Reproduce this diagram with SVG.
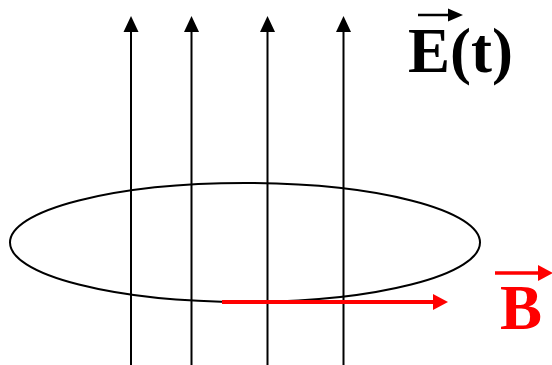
<svg xmlns="http://www.w3.org/2000/svg" width="552" height="365" viewBox="0 0 552 365">
<style>
.fl{stroke:#000;stroke-width:2;fill:none}
.hd{fill:#000}
.lbl{font-family:"Liberation Serif","Times New Roman",serif;font-weight:bold;font-size:63px}
</style>
<rect width="552" height="365" fill="#fff"/>
<g id="loop">
<ellipse cx="245" cy="242.5" rx="235" ry="59.5" fill="none" stroke="#000" stroke-width="2"/>
</g>
<g id="connectors">
<line class="fl" x1="131" y1="30" x2="131" y2="365"/>
<polygon class="hd" points="131,16 123.5,32 138.5,32"/>
<line class="fl" x1="191.5" y1="30" x2="191.5" y2="365"/>
<polygon class="hd" points="191.5,16 184,32 199,32"/>
<line class="fl" x1="267.5" y1="30" x2="267.5" y2="365"/>
<polygon class="hd" points="267.5,16 260,32 275,32"/>
<line class="fl" x1="343.5" y1="30" x2="343.5" y2="365"/>
<polygon class="hd" points="343.5,16 336,32 351,32"/>
<line x1="222" y1="302" x2="436" y2="302" stroke="#f00" stroke-width="4"/>
<polygon points="448,302 433,294 433,310" fill="#f00"/>
</g>
<g id="label-E">
<text class="lbl" x="408" y="72">E(t)</text>
<line x1="418" y1="15" x2="452" y2="15" stroke="#000" stroke-width="2.5"/>
<polygon points="463,15 448,8.5 448,21.5" fill="#000"/>
</g>
<g id="label-B">
<text class="lbl" x="500" y="329" fill="#f00">B</text>
<line x1="495" y1="273" x2="542" y2="273" stroke="#f00" stroke-width="3.5"/>
<polygon points="553,273 538,265 538,281" fill="#f00"/>
</g>
</svg>
